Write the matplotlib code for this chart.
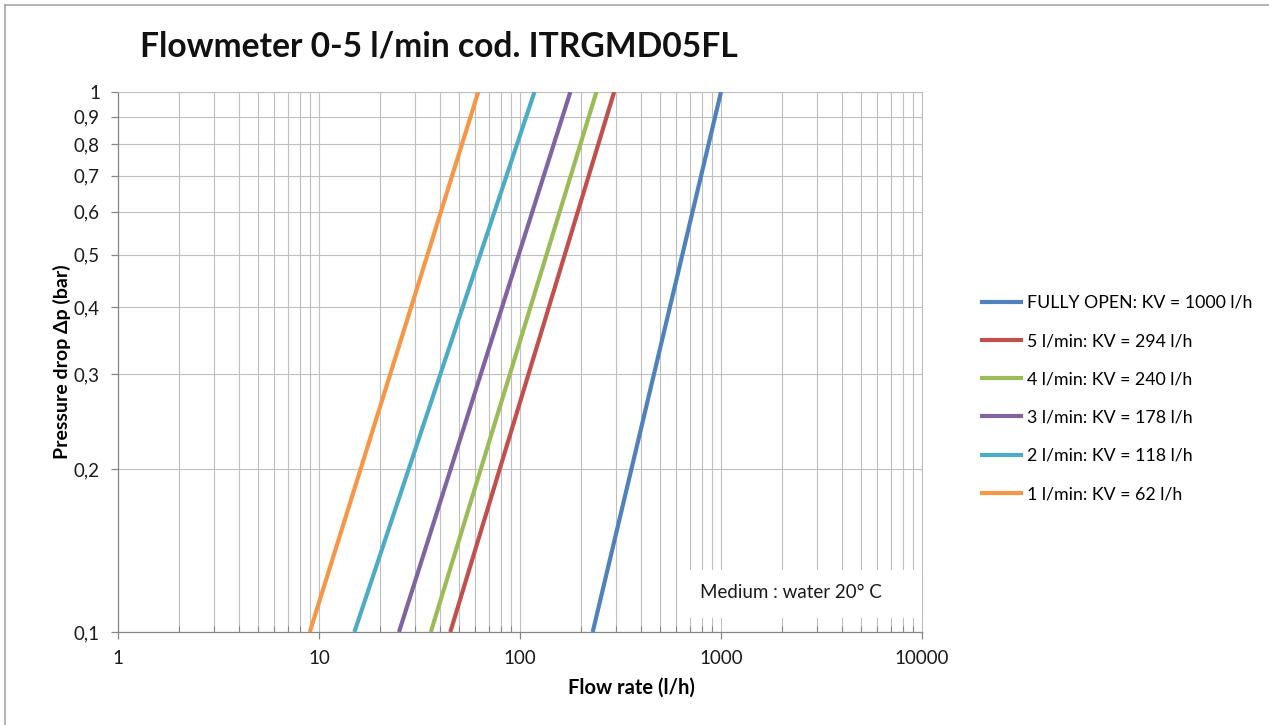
import matplotlib
matplotlib.use('Agg')
import matplotlib.pyplot as plt
from matplotlib.lines import Line2D
from matplotlib.patches import Rectangle
from matplotlib.ticker import FixedLocator, FixedFormatter, NullLocator, LogLocator

plt.rcParams['font.family'] = ['Lato', 'DejaVu Sans']

# pressure drop (bar) at the two ends of each line
dp = [0.1, 1.0]

# flow rate (l/h) read at dp = 0.1 and dp = 1
labels = ['FULLY OPEN: KV = 1000 l/h', '5 l/min: KV = 294 l/h', '4 l/min: KV = 240 l/h',
          '3 l/min: KV = 178 l/h', '2 l/min: KV = 118 l/h', '1 l/min: KV = 62 l/h']
q_open = [230, 1000]
q_5 = [45, 294]
q_4 = [36, 240]
q_3 = [25, 178]
q_2 = [15, 118]
q_1 = [9, 62]
colors = ['#4F81BD', '#C0504D', '#9BBB59', '#8064A2', '#4BACC6', '#F79646']

y_ticks = [0.1, 0.2, 0.3, 0.4, 0.5, 0.6, 0.7, 0.8, 0.9, 1.0]
y_labels = ['0,1', '0,2', '0,3', '0,4', '0,5', '0,6', '0,7', '0,8', '0,9', '1']
x_ticks = [1, 10, 100, 1000, 10000]
x_labels = ['1', '10', '100', '1000', '10000']

fig = plt.figure(figsize=(12.69, 7.25), dpi=100)
ax = fig.add_axes([118 / 1269, 1 - 632 / 725, 804 / 1269, 540 / 725])

series = [q_open, q_5, q_4, q_3, q_2, q_1]
for q, lab, c in zip(series, labels, colors):
    ax.plot(q, dp, color=c, lw=3.0, label=lab, solid_capstyle='butt', zorder=3)

ax.set_xscale('log')
ax.set_yscale('log')
ax.set_xlim(1, 10000)
ax.set_ylim(0.1, 1)

ax.xaxis.set_major_locator(FixedLocator(x_ticks))
ax.xaxis.set_major_formatter(FixedFormatter(x_labels))
ax.xaxis.set_minor_locator(LogLocator(base=10, subs=range(2, 10)))
ax.yaxis.set_major_locator(FixedLocator(y_ticks))
ax.yaxis.set_major_formatter(FixedFormatter(y_labels))
ax.yaxis.set_minor_locator(NullLocator())

grid_c = '#BFBFBF'
ax.set_axisbelow(True)
ax.grid(which='major', color=grid_c, lw=0.8)
ax.grid(which='minor', axis='x', color=grid_c, lw=0.8)

for s in ['top', 'right']:
    ax.spines[s].set_color(grid_c)
    ax.spines[s].set_linewidth(0.8)
for s in ['left', 'bottom']:
    ax.spines[s].set_color('#868686')
    ax.spines[s].set_linewidth(0.9)

ax.tick_params(axis='both', which='major', direction='out', length=5, width=0.9,
               color='#868686', labelsize=13.5, labelcolor='#1a1a1a')
ax.tick_params(axis='y', which='major', pad=8)
ax.tick_params(axis='x', which='major', pad=8)
ax.tick_params(axis='x', which='minor', direction='in', length=4, width=0.8, color='#868686')

ax.set_xlabel('Flow rate (l/h)', fontsize=14.5, fontweight='bold', labelpad=10)
ax.xaxis.set_label_coords(0.638, -0.085)
ax.set_ylabel('Pressure drop Δp (bar)', fontsize=14, fontweight='bold')
ax.yaxis.set_label_coords(-0.058, 0.5)

# white note box in the lower right corner
ax.add_patch(Rectangle((0.703, 0.026), 0.297, 0.089, transform=ax.transAxes,
                       facecolor='white', edgecolor='none', zorder=1.5))
ax.text(700 / 1269, 1 - 593 / 725, 'Medium : water 20° C', transform=fig.transFigure,
        fontsize=13.5, va='center', ha='left', color='#1a1a1a', zorder=4)

fig.text(140 / 1269, 1 - 57 / 725, 'Flowmeter 0-5 l/min cod. ITRGMD05FL',
         fontsize=24.2, fontweight='bold', va='baseline', ha='left', color='#111111')

fig.legend(loc='center left', bbox_to_anchor=(980 / 1269, 1 - 398.5 / 725),
           frameon=False, fontsize=12.8, handlelength=2.4, handletextpad=0.25,
           labelspacing=1.25, borderpad=0, borderaxespad=0)

# chart border (top and left visible)
fig.add_artist(Line2D([5 / 1269, 5 / 1269], [0, 1 - 5 / 725], color='#A6A6A6', lw=1.2))
fig.add_artist(Line2D([5 / 1269, 1], [1 - 5 / 725, 1 - 5 / 725], color='#A6A6A6', lw=1.2))

fig.savefig('out.png', dpi=100, facecolor='white')
